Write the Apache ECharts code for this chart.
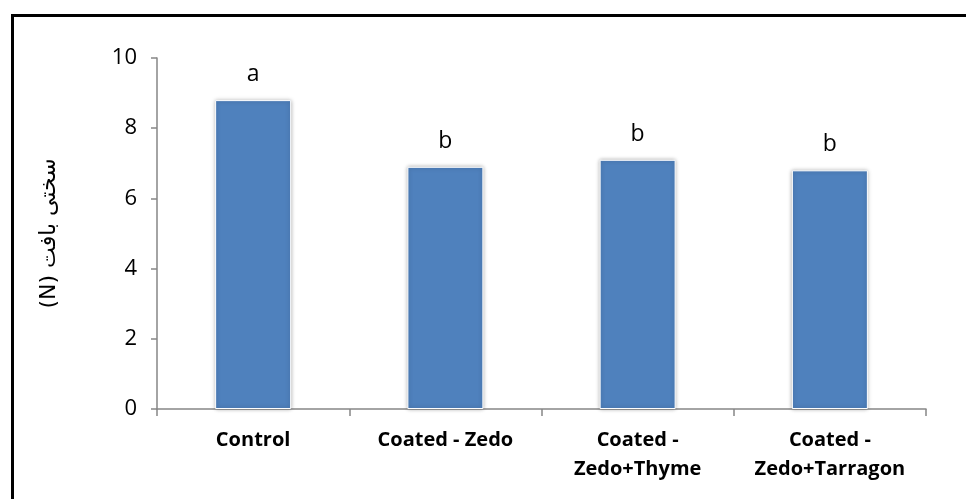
<!DOCTYPE html>
<html>
<head>
<meta charset="utf-8">
<script src="https://cdn.jsdelivr.net/npm/echarts@6/dist/echarts.min.js"></script>
<style>
  html, body { margin: 0; padding: 0; background: #fff; }
  #chart { width: 966px; height: 499px; }
</style>
</head>
<body>
<div id="chart"></div>
<script>
  // treatments on the x axis
  var categories = ['Control', 'Coated - Zedo', 'Coated -\nZedo+Thyme', 'Coated -\nZedo+Tarragon'];
  // tissue firmness (N)
  var firmness = [8.8, 6.9, 7.1, 6.8];
  // significance letters above bars
  var letters = ['a', 'b', 'b', 'b'];
  var yTicks = [0, 2, 4, 6, 8, 10];

  var chart = echarts.init(document.getElementById('chart'));
  chart.setOption({
    animation: false,
    graphic: [{
      type: 'rect',
      shape: { x: 12.5, y: 15.5, width: 1200, height: 800 },
      style: { fill: 'none', stroke: '#000', lineWidth: 3 },
      silent: true
    }],
    grid: { left: 157, right: 40, top: 58, bottom: 90 },
    xAxis: {
      type: 'category',
      data: categories,
      axisLine: { lineStyle: { color: '#868686', width: 1.5 } },
      axisTick: { show: true, length: 7, alignWithLabel: false, lineStyle: { color: '#868686', width: 1.5 } },
      axisLabel: {
        interval: 0,
        margin: 17,
        fontFamily: 'Open Sans',
        fontWeight: 'bold',
        fontSize: 20,
        lineHeight: 29,
        color: '#000'
      }
    },
    yAxis: {
      type: 'value',
      min: yTicks[0],
      max: yTicks[yTicks.length - 1],
      interval: 2,
      name: '\u202Bسختی بافت (N)\u202C',
      nameLocation: 'middle',
      nameRotate: 90,
      nameGap: 97,
      nameTextStyle: { fontFamily: 'DejaVu Sans', fontSize: 22, color: '#000' },
      splitLine: { show: false },
      axisLine: { show: true, lineStyle: { color: '#868686', width: 1.5 } },
      axisTick: { show: true, length: 6, inside: false, lineStyle: { color: '#868686', width: 1.5 } },
      axisLabel: { margin: 20, fontFamily: 'Open Sans', fontSize: 22, color: '#000' }
    },
    series: [{
      type: 'bar',
      data: firmness,
      barWidth: 76,
      itemStyle: {
        color: '#4F81BD',
        borderColor: '#fff',
        borderWidth: 1,
        shadowBlur: 4,
        shadowColor: 'rgba(0,0,0,0.3)'
      },
      label: {
        show: true,
        position: 'top',
        distance: 14,
        fontFamily: 'Open Sans',
        fontSize: 23,
        color: '#000',
        formatter: function (p) { return letters[p.dataIndex]; }
      }
    }]
  });
</script>
</body>
</html>
